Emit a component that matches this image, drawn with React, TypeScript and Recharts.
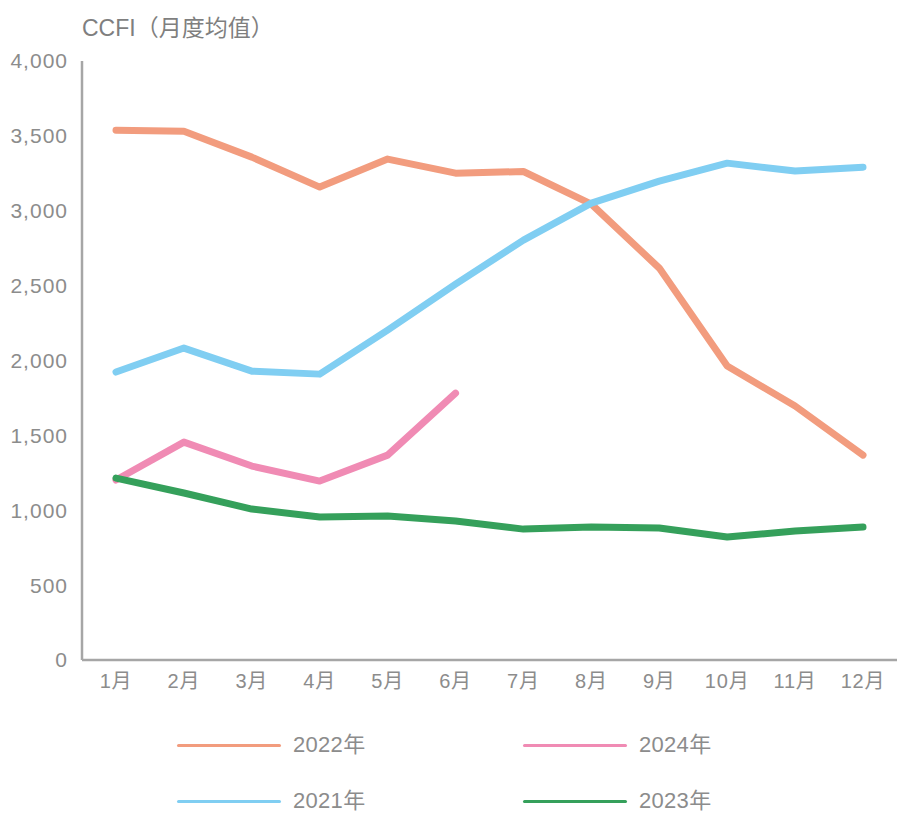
import React from 'react';
import { LineChart, Line, XAxis, YAxis } from 'recharts';

const months = ['1月', '2月', '3月', '4月', '5月', '6月', '7月', '8月', '9月', '10月', '11月', '12月'];
const y2022 = [3538, 3531, 3358, 3158, 3345, 3251, 3262, 3044, 2617, 1963, 1696, 1368];
const y2021 = [1923, 2083, 1929, 1909, 2203, 2510, 2804, 3051, 3198, 3318, 3265, 3291];
const y2024: (number | null)[] = [1202, 1455, 1295, 1195, 1368, 1782, null, null, null, null, null, null];
const y2023 = [1215, 1115, 1008, 955, 961, 928, 874, 888, 881, 821, 861, 888];
const yTicks = [0, 500, 1000, 1500, 2000, 2500, 3000, 3500, 4000];

const data = months.map((m, i) => ({
  month: m,
  y2022: y2022[i],
  y2021: y2021[i],
  y2024: y2024[i],
  y2023: y2023[i],
}));

const FONT = '"Liberation Sans", "Noto Sans CJK SC", sans-serif';
const GRAY = '#8c8c8c';

const legendItems = [
  { name: '2022年', color: '#F29C7E' },
  { name: '2024年', color: '#F08BB4' },
  { name: '2021年', color: '#80CEF2' },
  { name: '2023年', color: '#35A05B' },
];

function LegendBlock() {
  return (
    <div style={{ position: 'absolute', left: 0, top: 734, width: 902, height: 79, fontFamily: FONT }}>
      {legendItems.map((it, i) => {
        const col = i % 2;
        const row = Math.floor(i / 2);
        const left = col === 0 ? 177 : 523;
        const top = row * 56;
        return (
          <div key={it.name} style={{ position: 'absolute', left, top, display: 'flex', alignItems: 'center', height: 22 }}>
            <div style={{ width: 104, height: 3, background: it.color, borderRadius: 2 }} />
            <span style={{ marginLeft: 12, fontSize: 22, lineHeight: '22px', color: GRAY, letterSpacing: 0.3 }}>{it.name}</span>
          </div>
        );
      })}
    </div>
  );
}

export default function App() {
  return (
    <div style={{ position: 'absolute', left: 0, top: 0, width: 902, height: 813, background: '#fff' }}>
      <div style={{ position: 'absolute', left: 82, top: 14, fontSize: 23, lineHeight: '28px', color: '#7f7f7f', fontFamily: FONT }}>
        CCFI（月度均值）
      </div>
      <LineChart width={902} height={813} data={data} margin={{ top: 61, right: 5, left: 0, bottom: 123 }}>
        <XAxis
          dataKey="month"
          padding={{ left: 34, right: 34 }}
          tickLine={false}
          tickSize={0}
          tickMargin={14}
          height={30}
          axisLine={{ stroke: '#a6a6a6', strokeWidth: 2.5 }}
          tick={{ fill: GRAY, fontSize: 20, fontFamily: FONT, letterSpacing: 0.8 }}
          interval={0}
        />
        <YAxis
          domain={[0, 4000]}
          ticks={yTicks}
          tickFormatter={(v: number) => v.toLocaleString('en-US')}
          width={82}
          tickLine={false}
          tickSize={0}
          tickMargin={14}
          axisLine={{ stroke: '#a6a6a6', strokeWidth: 2.5 }}
          tick={{ fill: GRAY, fontSize: 21, fontFamily: FONT, letterSpacing: 1 }}
        />
        <Line dataKey="y2022" name="2022年" stroke="#F29C7E" strokeWidth={7} dot={false} strokeLinecap="round" strokeLinejoin="round" isAnimationActive={false} />
        <Line dataKey="y2021" name="2021年" stroke="#80CEF2" strokeWidth={7} dot={false} strokeLinecap="round" strokeLinejoin="round" isAnimationActive={false} />
        <Line dataKey="y2024" name="2024年" stroke="#F08BB4" strokeWidth={7} dot={false} strokeLinecap="round" strokeLinejoin="round" isAnimationActive={false} />
        <Line dataKey="y2023" name="2023年" stroke="#35A05B" strokeWidth={7} dot={false} strokeLinecap="round" strokeLinejoin="round" isAnimationActive={false} />
      </LineChart>
      <LegendBlock />
    </div>
  );
}
